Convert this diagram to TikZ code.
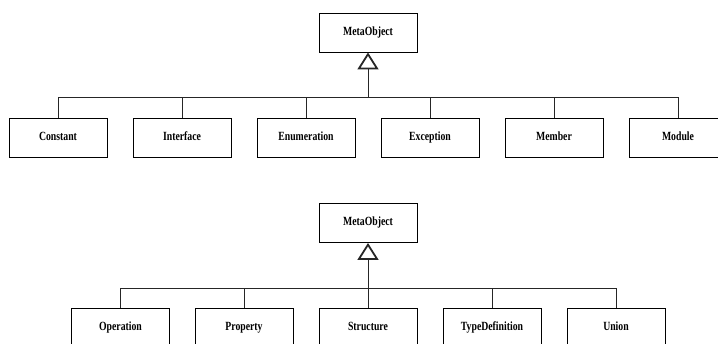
\documentclass[tikz,border=0pt]{standalone}
\usepackage{fontspec}
\newfontfamily\classfont{Liberation Serif}[FakeStretch=0.78]
\usetikzlibrary{arrows.meta}
\begin{document}
\begin{tikzpicture}[x=1pt,y=-1pt,
  classbox/.style={draw=black, line width=0.9pt, minimum width=98pt, minimum height=39pt,
    inner sep=0pt, text height=8.5pt, text depth=2.5pt,
    font=\classfont\bfseries\fontsize{12.5}{14}\selectfont},
  link/.style={draw=black!85, line width=0.9pt},
  inherit/.style={link, -{Triangle[open, length=17pt, width=21pt, line width=1.8pt]}}]
\useasboundingbox (0,0) rectangle (718,344);
\begin{scope}
\clip (0,0) rectangle (718,344);

% upper hierarchy
\node[classbox] (metaA) at (368,32.5) {MetaObject};
\coordinate (busA) at (368,97);
\node[classbox] (constant)    at (58,137.5)  {Constant};
\node[classbox] (interface)   at (182,137.5) {Interface};
\node[classbox] (enumeration) at (306,137.5) {Enumeration};
\node[classbox] (exception)   at (430,137.5) {Exception};
\node[classbox] (member)      at (554,137.5) {Member};
\node[classbox] (module)      at (678,137.5) {Module};
\foreach \c in {constant,interface,enumeration,exception,member,module}
  \draw[link] (\c.north) |- (busA);
\draw[inherit] (busA) -- (metaA.south);

% lower hierarchy
\node[classbox] (metaB) at (368,223) {MetaObject};
\coordinate (busB) at (368,288);
\node[classbox] (operation)  at (120.5,328) {Operation};
\node[classbox] (property)   at (244,328)   {Property};
\node[classbox] (structure)  at (368,328)   {Structure};
\node[classbox] (typedef)    at (492,328)   {TypeDefinition};
\node[classbox] (union)      at (616,328)   {Union};
\foreach \c in {operation,property,structure,typedef,union}
  \draw[link] (\c.north) |- (busB);
\draw[inherit] (busB) -- (metaB.south);
\end{scope}
\end{tikzpicture}
\end{document}
